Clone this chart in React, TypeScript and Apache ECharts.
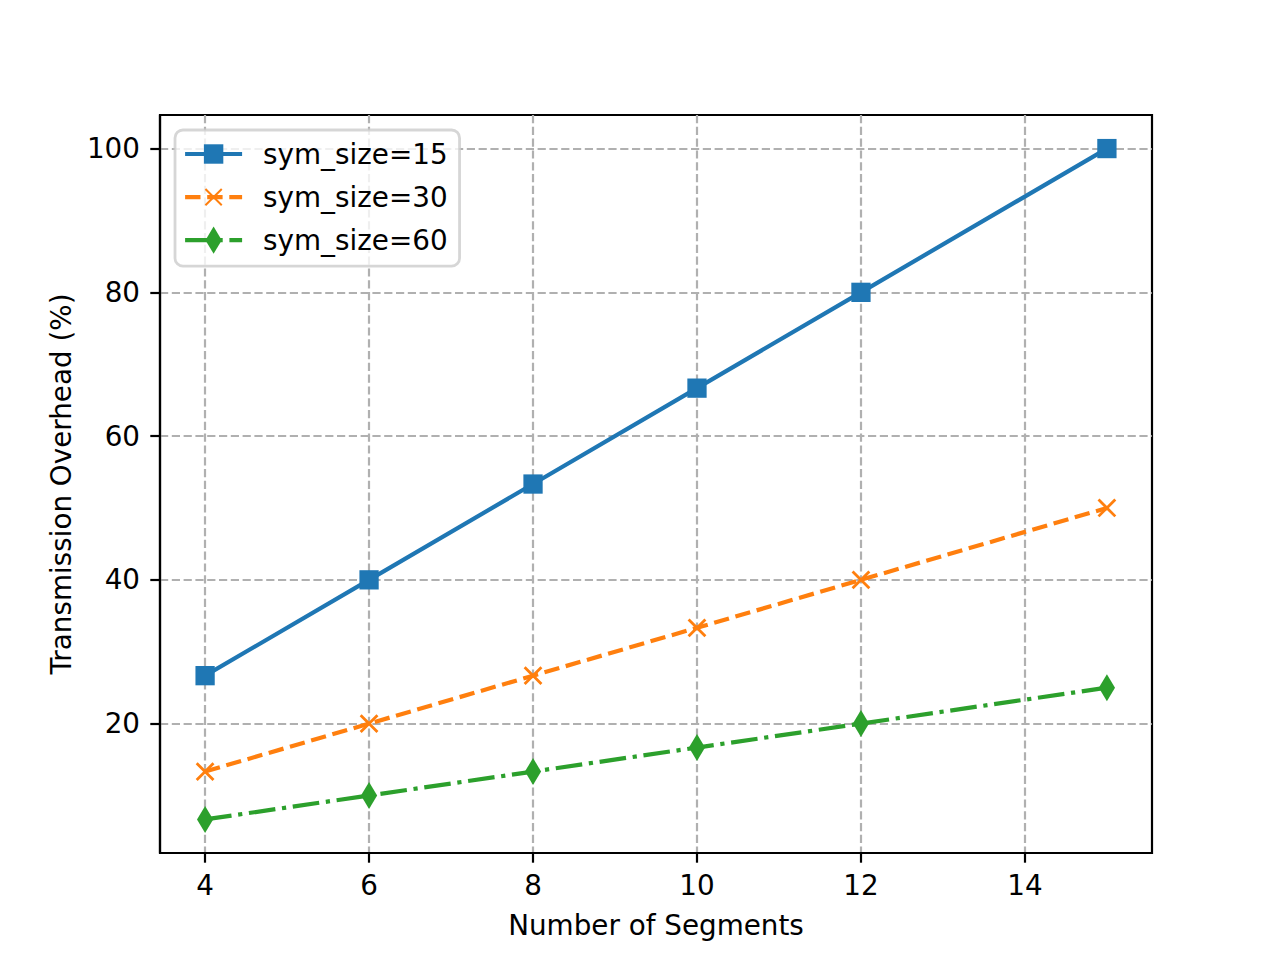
import React, { useEffect, useRef } from "react";
import * as echarts from "echarts";

const segments = [4, 6, 8, 10, 12, 15];
const sym15 = [26.67, 40, 53.33, 66.67, 80, 100];
const sym30 = [13.33, 20, 26.67, 33.33, 40, 50];
const sym60 = [6.67, 10, 13.33, 16.67, 20, 25];
const xTicks = [4, 6, 8, 10, 12, 14];
const yTicks = [20, 40, 60, 80, 100];
const seriesNames = ["sym_size=15", "sym_size=30", "sym_size=60"];

const FONT = "DejaVu Sans";
const FS = 27.8;

// symbol paths padded with move-to points so that the symbol box is square
const SQUARE = "path://M-14 -14M14 14M-10 -10L10 -10L10 10L-10 10Z";
const CROSS = "path://M-10 -10M10 10M-6 -6L6 6M6 -6L-6 6";
const THIN_DIAMOND = "path://M-10 -10M10 10M0 -10L6 0L0 10L-6 0Z";

export default function App() {
  const ref = useRef<HTMLDivElement>(null);
  useEffect(() => {
    if (!ref.current) return;
    const chart = echarts.init(ref.current, null, { renderer: "svg" });
    const pairs = (ys: number[]) => segments.map((x, i) => [x, ys[i]]);
    const axisCommon = {
      axisLine: { show: true, lineStyle: { color: "#000", width: 2.2 } },
      axisTick: { show: true, inside: false, length: 9.7, lineStyle: { color: "#000", width: 2.2 } },
      splitLine: { show: true, lineStyle: { color: "#b0b0b0", width: 2.2, type: [8.2, 3.6] } },
      nameTextStyle: { fontFamily: FONT, fontSize: FS, color: "#000" },
    };
    chart.setOption({
      animation: false,
      backgroundColor: "#fff",
      textStyle: { fontFamily: FONT },
      grid: {
        left: 160,
        right: 128,
        top: 115,
        bottom: 107,
        show: true,
        borderColor: "#000",
        borderWidth: 2.2,
        backgroundColor: "transparent",
      },
      legend: {
        left: 175,
        top: 130,
        orient: "vertical",
        data: seriesNames,
        itemWidth: 57,
        itemHeight: 34,
        itemGap: 11,
        padding: [8, 12, 10, 8],
        backgroundColor: "rgba(255,255,255,0.8)",
        borderColor: "rgba(204,204,204,0.8)",
        borderWidth: 2.8,
        borderRadius: 8,
        lineStyle: { width: 4.2 },
        textStyle: {
          fontFamily: FONT,
          fontSize: FS,
          color: "#000",
          lineHeight: 32,
          padding: [0, 0, 0, 16],
        },
      },
      xAxis: {
        type: "value",
        min: 3.45,
        max: 15.55,
        name: "Number of Segments",
        nameLocation: "middle",
        nameGap: 58,
        ...axisCommon,
        axisTick: { ...axisCommon.axisTick, customValues: xTicks },
        splitLine: { ...axisCommon.splitLine, customValues: xTicks },
        axisLabel: {
          customValues: xTicks,
          margin: 18,
          fontFamily: FONT,
          fontSize: FS,
          color: "#000",
        },
      },
      yAxis: {
        type: "value",
        min: 2.0,
        max: 104.67,
        name: "Transmission Overhead (%)",
        nameLocation: "middle",
        nameGap: 85,
        ...axisCommon,
        axisTick: { ...axisCommon.axisTick, customValues: yTicks },
        splitLine: { ...axisCommon.splitLine, customValues: yTicks },
        axisLabel: {
          customValues: yTicks,
          margin: 20,
          fontFamily: FONT,
          fontSize: FS,
          color: "#000",
        },
      },
      series: [
        {
          name: seriesNames[0],
          type: "line",
          data: pairs(sym15),
          symbol: SQUARE,
          symbolSize: 27,
          color: "#1f77b4",
          itemStyle: { color: "#1f77b4" },
          lineStyle: { color: "#1f77b4", width: 4.2, type: "solid" },
          z: 5,
        },
        {
          name: seriesNames[1],
          type: "line",
          data: pairs(sym30),
          symbol: CROSS,
          symbolSize: 28,
          color: "#ff7f0e",
          itemStyle: { color: "none", borderColor: "#ff7f0e", borderWidth: 2.8 },
          lineStyle: { color: "#ff7f0e", width: 4.2, type: [15.4, 6.7] },
          z: 5,
        },
        {
          name: seriesNames[2],
          type: "line",
          data: pairs(sym60),
          symbol: THIN_DIAMOND,
          symbolSize: 27,
          color: "#2ca02c",
          itemStyle: { color: "#2ca02c" },
          lineStyle: { color: "#2ca02c", width: 4.2, type: [26.7, 6.7, 4.2, 6.7] },
          z: 5,
        },
      ],
    });
    return () => chart.dispose();
  }, []);
  return (
    <div
      ref={ref}
      style={{ position: "absolute", left: 0, top: 0, width: 1280, height: 960 }}
    />
  );
}
